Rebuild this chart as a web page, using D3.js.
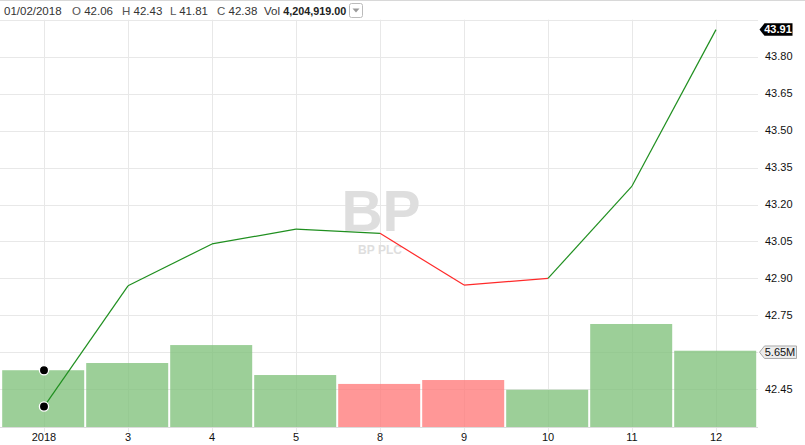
<!DOCTYPE html>
<html><head><meta charset="utf-8">
<script src="https://cdn.jsdelivr.net/npm/d3@7/dist/d3.min.js"></script>
<style>
html,body{margin:0;padding:0;background:#fff;}
svg{display:block;font-family:"Liberation Sans",Arial,Helvetica,sans-serif;}
</style></head>
<body><svg id="c" width="805" height="445"></svg>
<script>
const days = ["2018","3","4","5","8","9","10","11","12"];
const closes = [42.38, 42.87, 43.04, 43.10, 43.083, 42.873, 42.90, 43.275, 43.91];
const volumes = [4.204919, 4.74, 6.07, 3.85, 3.19, 3.48, 2.76, 7.63, 5.65]; // millions
const upDay = [true, true, true, true, false, false, true, true, true];
const priceTicks = [42.45, 42.60, 42.75, 42.90, 43.05, 43.20, 43.35, 43.50, 43.65, 43.80, 43.95];
const priceLabels = ["42.45", "", "42.75", "42.90", "43.05", "43.20", "43.35", "43.50", "43.65", "43.80", ""];
const header = [["", "01/02/2018"], ["O", "42.06"], ["H", "42.43"], ["L", "41.81"], ["C", "42.38"]];
const headerVol = "4,204,919.00";

const svg = d3.select("#c");
const W = 805, H = 445;
const plotL = 2, plotR = 758, plotT = 19.7, plotB = 427;

const x = d3.scaleBand().domain(days).range([plotL, plotR]).padding(0);
const xc = d => x(d) + x.bandwidth() / 2;
const y = d3.scaleLinear().domain([42.45, 43.80]).range([389.3, 56.7]);
const yv = d3.scaleLinear().domain([0, 30]).range([plotB, plotB - 405]);

// top border
svg.append("line").attr("x1", 0).attr("x2", W).attr("y1", 0.5).attr("y2", 0.5).attr("stroke", "#d8d8d8");

// grid
const g = svg.append("g");
g.selectAll("line.h").data(priceTicks).join("line")
  .attr("x1", 0).attr("x2", plotR).attr("y1", d => Math.round(y(d)) + 0.5).attr("y2", d => Math.round(y(d)) + 0.5)
  .attr("stroke", "#e8e8e8").attr("stroke-width", 1);
g.selectAll("line.v").data(days).join("line")
  .attr("x1", d => Math.round(xc(d)) + 0.5).attr("x2", d => Math.round(xc(d)) + 0.5)
  .attr("y1", plotT).attr("y2", plotB + 5)
  .attr("stroke", "#e8e8e8").attr("stroke-width", 1);

// volume bars
svg.append("g").selectAll("rect").data(days).join("rect")
  .attr("x", d => x(d) + 0.2)
  .attr("width", x.bandwidth() - 2)
  .attr("y", (d, i) => yv(volumes[i]))
  .attr("height", (d, i) => plotB - yv(volumes[i]))
  .attr("fill", (d, i) => upDay[i] ? "rgb(128,194,123)" : "rgb(255,122,122)")
  .attr("fill-opacity", 0.78);

// bottom baseline
svg.append("line").attr("x1", 0).attr("x2", plotR).attr("y1", plotB + 0.5).attr("y2", plotB + 0.5).attr("stroke", "#dcdcdc");

// watermark
svg.append("text").attr("x", 381).attr("y", 231).attr("text-anchor", "middle")
  .attr("font-size", 57).attr("font-weight", "bold").attr("fill", "#dedede").text("BP");
svg.append("text").attr("x", 380).attr("y", 254).attr("text-anchor", "middle")
  .attr("font-size", 12).attr("font-weight", "bold").attr("fill", "#dedede").text("BP PLC");

// price line segments, colored by the day's direction
const segs = d3.range(days.length - 1).map(i => ({i}));
svg.append("g").selectAll("line").data(segs).join("line")
  .attr("x1", s => xc(days[s.i])).attr("y1", s => y(closes[s.i]))
  .attr("x2", s => xc(days[s.i + 1])).attr("y2", s => y(closes[s.i + 1]))
  .attr("stroke", s => upDay[s.i] ? "#1f8f1f" : "#ff2a2a")
  .attr("stroke-width", 1.2);

// dots at first day
svg.append("circle").attr("cx", xc(days[0])).attr("cy", yv(volumes[0])).attr("r", 4.6)
  .attr("fill", "#000").attr("stroke", "#fff").attr("stroke-width", 1.3);
svg.append("circle").attr("cx", xc(days[0])).attr("cy", y(closes[0])).attr("r", 4.6)
  .attr("fill", "#000").attr("stroke", "#fff").attr("stroke-width", 1.3);

// right axis labels
svg.append("g").selectAll("text").data(priceTicks).join("text")
  .attr("x", 765).attr("y", d => y(d)).attr("dy", "0.33em")
  .attr("font-size", 11).attr("fill", "#111").text((d, i) => priceLabels[i]);

// x axis labels
svg.append("g").selectAll("text").data(days).join("text")
  .attr("x", d => xc(d)).attr("y", 441).attr("text-anchor", "middle")
  .attr("font-size", 11).attr("fill", "#111").text(d => d);

// last price tag
function tag(yc, txt, bg, fg, border, w, bold) {
  const h = 12.5, tip = 759.5, bx = tip + 5;
  const p = `M${tip},${yc} L${bx},${yc - h/2} L${bx + w},${yc - h/2} L${bx + w},${yc + h/2} L${bx},${yc + h/2} Z`;
  svg.append("path").attr("d", p).attr("fill", bg).attr("stroke", border || "none").attr("stroke-width", 1);
  svg.append("text").attr("x", bx + w / 2 - 0.5).attr("y", yc).attr("dy", "0.35em").attr("text-anchor", "middle")
    .attr("font-size", 11).attr("font-weight", bold ? "bold" : "normal").attr("fill", fg).text(txt);
}
tag(y(closes[8]), d3.format(".2f")(closes[8]), "#000", "#fff", null, 28, true);
tag(yv(volumes[8]) + 1.5, d3.format(".2f")(volumes[8]) + "M", "#ececec", "#111", "#aaa", 32, false);

// header
const hg = svg.append("g").attr("font-size", 11.5).attr("fill", "#333");
const hx = [4, 72, 122, 170, 217];
header.forEach((h, i) => {
  const t = hg.append("text").attr("x", hx[i]).attr("y", 15);
  if (h[0]) t.append("tspan").attr("fill", "#555").text(h[0] + " ");
  t.append("tspan").text(h[1]);
});
const vt = hg.append("text").attr("x", 264).attr("y", 15);
vt.append("tspan").text("Vol ");
vt.append("tspan").attr("font-weight", "bold").attr("fill", "#222").attr("font-size", 10.8).text(headerVol);
// dropdown
svg.append("rect").attr("x", 349.5).attr("y", 3.5).attr("width", 13).attr("height", 14).attr("rx", 2)
  .attr("fill", "#fff").attr("stroke", "#bbb");
svg.append("path").attr("d", "M352.5,8.5 L359.5,8.5 L356,12.5 Z").attr("fill", "#999");
</script></body></html>
